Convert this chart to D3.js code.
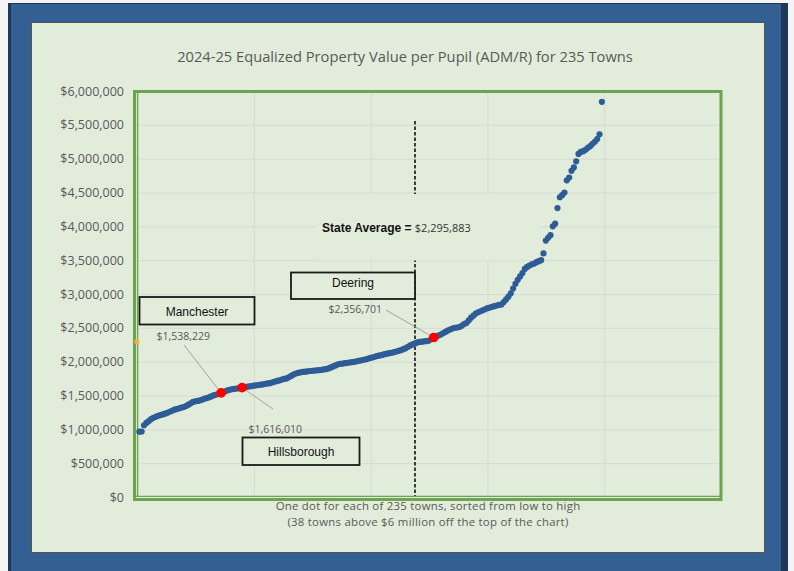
<!DOCTYPE html>
<html>
<head>
<meta charset="utf-8">
<script src="https://cdn.jsdelivr.net/npm/d3@7"></script>
<style>
  html, body { margin: 0; padding: 0; background: #f4f4f4; }
  svg { display: block; font-family: "Open Sans", sans-serif; }
</style>
</head>
<body>
<svg id="chart" width="794" height="571"></svg>
<script>
// Data: equalized value per pupil, in $ thousands, one entry per town (rank 1..199 on chart)

const townValuesK = [
  965, 968, 1060, 1095, 1120, 1150, 1170, 1185, 1200, 1210,
  1220, 1232, 1245, 1260, 1275, 1290, 1300, 1310, 1320, 1330,
  1345, 1365, 1385, 1405, 1415, 1420, 1428, 1440, 1455, 1462,
  1475, 1490, 1505, 1515, 1525, 1538.229, 1550, 1565, 1578, 1588,
  1595, 1600, 1604, 1609, 1616.010, 1622, 1628, 1634, 1640, 1645,
  1650, 1655, 1660, 1665, 1672, 1678, 1683, 1695, 1705, 1715,
  1725, 1735, 1745, 1752, 1770, 1790, 1810, 1825, 1835, 1842,
  1848, 1852, 1858, 1862, 1865, 1868, 1872, 1876, 1880, 1885,
  1890, 1900, 1915, 1930, 1945, 1960, 1968, 1972, 1978, 1983,
  1988, 1993, 1998, 2005, 2012, 2020, 2028, 2036, 2045, 2055,
  2065, 2075, 2085, 2092, 2100, 2110, 2118, 2125, 2132, 2140,
  2150, 2160, 2170, 2185, 2200, 2220, 2240, 2255, 2270, 2285,
  2292, 2296, 2300, 2305, 2312, 2335, 2356.701, 2370, 2385, 2400,
  2420, 2440, 2460, 2475, 2490, 2500, 2505, 2512, 2530, 2555,
  2570, 2610, 2650, 2680, 2710, 2730, 2745, 2760, 2775, 2790,
  2800, 2810, 2820, 2830, 2838, 2845, 2880, 2920, 2960, 3010,
  3080, 3150, 3210, 3260, 3310, 3370, 3400, 3420, 3440, 3450,
  3470, 3485, 3500, 3600, 3790, 3830, 3870, 4000, 4040, 4270,
  4430, 4460, 4500, 4680, 4720, 4820, 4870, 4960, 5070, 5100,
  5110, 5130, 5160, 5185, 5220, 5250, 5290, 5360, 5840
];

const highlightNames = ["Manchester", "Hillsborough", "Deering"];
const highlightRanks = [36, 45, 127];
const highlightValues = [1538229, 1616010, 2356701];

const stateAverage = 2295883;
const stateAverageRank = 119;

const yTicks = [0, 500000, 1000000, 1500000, 2000000, 2500000, 3000000,
                3500000, 4000000, 4500000, 5000000, 5500000, 6000000];
const xTicks = [0, 50, 100, 150, 200, 250];

const chartTitle = "2024-25 Equalized Property Value per Pupil (ADM/R) for 235 Towns";
const xNoteLines = [
  "One dot for each of 235 towns, sorted from low to high",
  "(38 towns above $6 million off the top of the chart)"
];


// Layout

const panelFill = "#e2ecdb";
const green = "#6ea352";
const blue = "#2e5c96";
const grid = "#d6dad6";
const arial = "'Liberation Sans', Arial, sans-serif";

const svg = d3.select("#chart");

const x = d3.scaleLinear().domain([0, 250]).range([137, 721]);
const y = d3.scaleLinear().domain([0, 6000000]).range([497, 91]);
const fmt = d3.format("$,.0f");


// Frame

svg.append("rect").attr("x", 8).attr("y", 3).attr("width", 780).attr("height", 570).attr("fill", "#1d3659");
svg.append("rect").attr("x", 11).attr("y", 4).attr("width", 770).attr("height", 569).attr("fill", "#335f93");
svg.append("rect")
    .attr("x", 31.5).attr("y", 22.5).attr("width", 733).attr("height", 530)
    .attr("fill", panelFill).attr("stroke", "#4f5550").attr("stroke-width", 1);

svg.append("text")
    .attr("x", 405).attr("y", 62)
    .attr("text-anchor", "middle")
    .attr("font-size", 14.7).attr("fill", "#595959")
    .text(chartTitle);


// Gridlines

const gridG = svg.append("g");

gridG.selectAll("line.h")
    .data(yTicks.slice(1, -1))
    .join("line")
    .attr("class", "h")
    .attr("x1", x(0)).attr("x2", x(250))
    .attr("y1", d => y(d) + 0.5).attr("y2", d => y(d) + 0.5)
    .attr("stroke", grid);

gridG.selectAll("line.v")
    .data(xTicks.slice(1, -1))
    .join("line")
    .attr("class", "v")
    .attr("x1", d => x(d) + 0.5).attr("x2", d => x(d) + 0.5)
    .attr("y1", y(6000000)).attr("y2", y(0))
    .attr("stroke", grid);


// Y axis labels

const yAxis = d3.axisLeft(y).tickValues(yTicks).tickFormat(fmt).tickSize(0).tickPadding(0);
const yAxisG = svg.append("g").attr("transform", "translate(124,0)").call(yAxis);
yAxisG.select(".domain").remove();
yAxisG.selectAll("text")
    .style("font-family", "'Open Sans', sans-serif")
    .style("font-size", "12.5px")
    .attr("fill", "#595959");


// State average line + label

svg.append("line")
    .attr("x1", x(stateAverageRank)).attr("x2", x(stateAverageRank))
    .attr("y1", 121).attr("y2", y(0))
    .attr("stroke", "#111").attr("stroke-width", 1.6)
    .attr("stroke-dasharray", "3.5,2");

svg.append("rect")
    .attr("x", 316).attr("y", 194).attr("width", 223).attr("height", 66.5)
    .attr("fill", panelFill);

const avgLabel = svg.append("text").attr("x", 322).attr("y", 231.5);
avgLabel.append("tspan")
    .style("font-family", arial)
    .attr("font-weight", "bold").attr("font-size", 12).attr("fill", "#111")
    .text("State Average = ");
avgLabel.append("tspan")
    .attr("font-size", 11).attr("fill", "#333")
    .text(fmt(stateAverage));


// Plot border and axis lines

svg.append("rect")
    .attr("x", 134.5).attr("y", 91.5).attr("width", 586.5).attr("height", 408)
    .attr("fill", "none").attr("stroke", green).attr("stroke-width", 3);
svg.append("line")
    .attr("x1", x(0) + 0.6).attr("x2", x(0) + 0.6).attr("y1", 92).attr("y2", 497)
    .attr("stroke", green).attr("stroke-width", 1.4);
svg.append("line")
    .attr("x1", 136).attr("x2", 721).attr("y1", 496.4).attr("y2", 496.4)
    .attr("stroke", green).attr("stroke-width", 1.4);

svg.selectAll("text.note")
    .data(xNoteLines)
    .join("text")
    .attr("class", "note")
    .attr("x", 428).attr("y", (d, i) => 509.5 + i * 16)
    .attr("text-anchor", "middle")
    .attr("font-size", 11.4).attr("letter-spacing", 0.25).attr("fill", "#595959")
    .text(d => d);


// Callouts (box, value label, leader line)

const callouts = [
  { box: [139.5, 297, 115, 27.5], nameY: 315.5, valueXY: [156.5, 340], anchor: "start", leader: [184, 345] },
  { box: [242.5, 437.5, 117, 27.5], nameY: 455.5, valueXY: [248.5, 433], anchor: "start", leader: [273, 409] },
  { box: [291, 272.5, 124, 26.5], nameY: 287, valueXY: [382, 313], anchor: "end", leader: [386, 310] }
];

callouts.forEach((c, i) => {
    const dotX = x(highlightRanks[i]);
    const dotY = y(highlightValues[i]);

    svg.append("line")
        .attr("x1", c.leader[0]).attr("y1", c.leader[1])
        .attr("x2", dotX).attr("y2", dotY)
        .attr("stroke", "#9a9a9a").attr("stroke-width", 0.9);

    svg.append("rect")
        .attr("x", c.box[0]).attr("y", c.box[1])
        .attr("width", c.box[2]).attr("height", c.box[3])
        .attr("fill", panelFill).attr("stroke", "#1a1a1a").attr("stroke-width", 1.8);

    svg.append("text")
        .attr("x", c.box[0] + c.box[2] / 2).attr("y", c.nameY)
        .attr("text-anchor", "middle")
        .style("font-family", arial)
        .attr("font-size", 12).attr("fill", "#111")
        .text(highlightNames[i]);

    svg.append("text")
        .attr("x", c.valueXY[0]).attr("y", c.valueXY[1])
        .attr("text-anchor", c.anchor)
        .attr("font-size", 10.5).attr("fill", "#595959")
        .text(fmt(highlightValues[i]));
});


// Dots

svg.append("circle")
    .attr("cx", x(0)).attr("cy", y(stateAverage))
    .attr("r", 2.6).attr("fill", "#f2b33d");

svg.append("g")
    .selectAll("circle")
    .data(townValuesK)
    .join("circle")
    .attr("cx", (d, i) => x(i + 1))
    .attr("cy", d => y(d * 1000))
    .attr("r", 3.1)
    .attr("fill", blue);

svg.append("g")
    .selectAll("circle")
    .data(highlightRanks)
    .join("circle")
    .attr("cx", d => x(d))
    .attr("cy", (d, i) => y(highlightValues[i]))
    .attr("r", 4.8)
    .attr("fill", "#ff0000");
</script>
</body>
</html>
